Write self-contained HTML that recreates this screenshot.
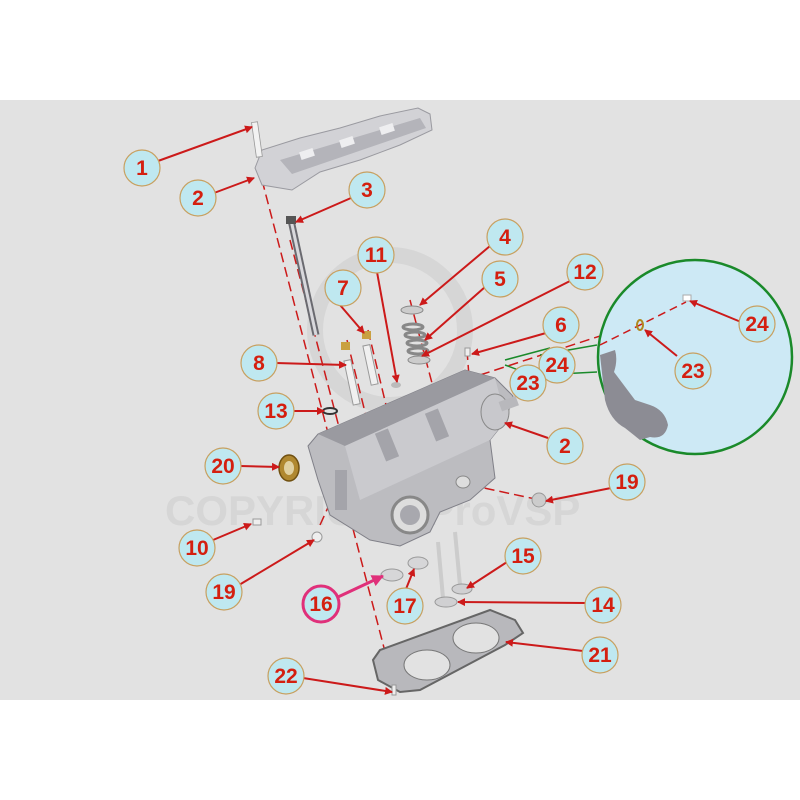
<!DOCTYPE html>
<html><head><meta charset="utf-8"><style>
html,body{margin:0;padding:0;background:#fff;}
svg{display:block}
text{font-family:"Liberation Sans",Arial,sans-serif;font-weight:bold;}
</style></head><body>
<svg width="800" height="800" viewBox="0 0 800 800" xmlns="http://www.w3.org/2000/svg">
<defs>
<marker id="ar" markerWidth="8" markerHeight="8" refX="7" refY="4" orient="auto" markerUnits="userSpaceOnUse"><path d="M0,0 L8,4 L0,8 z" fill="#cc1a1a"/></marker>
<marker id="ap" markerWidth="12" markerHeight="12" refX="11" refY="6" orient="auto" markerUnits="userSpaceOnUse"><path d="M0,0 L12,6 L0,12 z" fill="#e0307a"/></marker>
</defs>
<rect x="0" y="100" width="800" height="600" fill="#e2e2e2"/>
<circle cx="390" cy="330" r="75" fill="none" stroke="#d6d6d6" stroke-width="16"/>
<text x="165" y="525" font-size="42" fill="#d6d6d6" font-weight="normal">COPYRIGHT ProVSP</text>

<g stroke="#cc1a1a" stroke-width="1.5" stroke-dasharray="10,5" fill="none">
<line x1="262" y1="180" x2="395" y2="690"/>
<line x1="290" y1="240" x2="345" y2="450"/>
<line x1="347" y1="340" x2="372" y2="440"/>
<line x1="368" y1="330" x2="392" y2="430"/>
<line x1="410" y1="300" x2="455" y2="470"/>
<line x1="467" y1="350" x2="470" y2="390"/>
<line x1="480" y1="375" x2="680" y2="310"/>
<line x1="320" y1="525" x2="345" y2="470"/>
<line x1="470" y1="485" x2="540" y2="500"/>
</g>

<!-- cam cover -->
<polygon points="255,168 262,150 300,138 340,128 380,116 418,108 430,114 432,130 400,145 360,160 320,172 292,190 262,185" fill="#d2d2d6" stroke="#9a9aa0" stroke-width="1"/>
<polygon points="280,160 420,118 426,128 292,174" fill="#b4b4ba"/>
<g fill="#eeeef0"><rect x="300" y="150" width="14" height="8" transform="rotate(-18 307 154)"/><rect x="340" y="138" width="14" height="8" transform="rotate(-18 347 142)"/><rect x="380" y="125" width="14" height="8" transform="rotate(-18 387 129)"/></g>
<rect x="254" y="122" width="6" height="35" fill="#f2f2f2" stroke="#999" stroke-width="0.8" transform="rotate(-8 257 140)"/>
<line x1="291" y1="220" x2="316" y2="335" stroke="#6a6a70" stroke-width="7"/>
<line x1="291" y1="220" x2="316" y2="335" stroke="#d8d8dc" stroke-width="3"/>
<rect x="286" y="216" width="10" height="8" fill="#555"/>
<rect x="348" y="360" width="7" height="45" fill="#f0f0f0" stroke="#999" transform="rotate(-12 351 380)"/>
<rect x="367" y="345" width="7" height="40" fill="#f0f0f0" stroke="#999" transform="rotate(-12 370 365)"/>
<rect x="341" y="342" width="9" height="8" fill="#c9a040"/><rect x="362" y="331" width="9" height="8" fill="#c9a040"/>
<g stroke="#888" stroke-width="3" fill="none"><ellipse cx="413" cy="327" rx="10" ry="3"/><ellipse cx="415" cy="335" rx="10" ry="3"/><ellipse cx="417" cy="343" rx="10" ry="3"/><ellipse cx="418" cy="351" rx="10" ry="3"/></g>
<ellipse cx="412" cy="310" rx="11" ry="4" fill="#ccc" stroke="#888"/>
<ellipse cx="419" cy="360" rx="11" ry="4" fill="#ccc" stroke="#888"/>
<rect x="465" y="348" width="5" height="8" fill="#eee" stroke="#999"/>
<ellipse cx="396" cy="385" rx="5" ry="3" fill="#bbb"/>
<ellipse cx="330" cy="411" rx="7" ry="3" fill="none" stroke="#333" stroke-width="2"/>

<!-- engine block -->
<polygon points="308,446 318,434 465,370 495,378 513,396 506,420 490,440 495,478 470,500 440,512 430,532 400,546 370,540 330,515 318,480" fill="#bcbcc0" stroke="#808088" stroke-width="1"/>
<polygon points="318,434 465,370 495,378 345,446" fill="#9a9aa0"/>
<polygon points="345,446 495,378 506,420 490,440 360,500" fill="#cacace"/>
<g fill="#a4a4aa"><rect x="380" y="430" width="14" height="30" transform="rotate(-22 387 445)"/><rect x="430" y="410" width="14" height="30" transform="rotate(-22 437 425)"/><rect x="335" y="470" width="12" height="40"/></g>
<circle cx="410" cy="515" r="18" fill="#ddd" stroke="#888" stroke-width="3"/>
<circle cx="410" cy="515" r="10" fill="#a8a8ae"/>
<ellipse cx="495" cy="412" rx="14" ry="18" fill="#c8c8cc" stroke="#888"/>
<rect x="500" y="400" width="18" height="10" fill="#b8b8bc" transform="rotate(-20 505 405)"/>
<ellipse cx="463" cy="482" rx="7" ry="6" fill="#ddd" stroke="#888"/>

<ellipse cx="289" cy="468" rx="10" ry="13" fill="#b08830" stroke="#705010" stroke-width="1.5"/>
<ellipse cx="289" cy="468" rx="5" ry="7" fill="#e0d0a0"/>
<rect x="253" y="519" width="8" height="6" fill="#eee" stroke="#999"/>
<ellipse cx="317" cy="537" rx="5" ry="5" fill="#eee" stroke="#999"/>
<ellipse cx="539" cy="500" rx="7" ry="7" fill="#ccc" stroke="#999"/>
<ellipse cx="392" cy="575" rx="11" ry="6" fill="#d6d6d8" stroke="#999"/>
<ellipse cx="418" cy="563" rx="10" ry="6" fill="#d6d6d8" stroke="#999"/>
<line x1="438" y1="542" x2="443" y2="598" stroke="#ccc" stroke-width="4"/>
<ellipse cx="446" cy="602" rx="11" ry="5" fill="#d0d0d2" stroke="#999"/>
<line x1="455" y1="532" x2="460" y2="585" stroke="#ccc" stroke-width="4"/>
<ellipse cx="462" cy="589" rx="10" ry="5" fill="#d0d0d2" stroke="#999"/>
<polygon points="373,660 380,650 490,610 515,620 523,633 505,645 420,690 400,692 378,680" fill="#b8b8bc" stroke="#666" stroke-width="2"/>
<ellipse cx="427" cy="665" rx="23" ry="15" fill="#e2e2e2" stroke="#777"/>
<ellipse cx="476" cy="638" rx="23" ry="15" fill="#e2e2e2" stroke="#777"/>
<rect x="392" y="685" width="4" height="10" fill="#eee" stroke="#999"/>

<line x1="597" y1="345" x2="540" y2="355" stroke="#1a8a2a" stroke-width="1.5"/>
<line x1="597" y1="372" x2="540" y2="375" stroke="#1a8a2a" stroke-width="1.5"/>
<circle cx="695" cy="357" r="97" fill="#cde9f5" stroke="#1a8a2a" stroke-width="2.5"/>
<path d="M600,355 L615,350 Q618,360 614,372 L635,400 L650,405 Q665,410 668,425 Q665,440 650,437 L640,440 L625,428 Q610,420 605,400 Z" fill="#8c8c94"/>
<line x1="600" y1="345" x2="686" y2="302" stroke="#cc1a1a" stroke-width="1.5" stroke-dasharray="8,5"/>
<ellipse cx="640" cy="325" rx="3" ry="5" fill="none" stroke="#b08820" stroke-width="2"/>
<rect x="683" y="295" width="8" height="6" fill="#fff" stroke="#aaa"/>

<g stroke="#cc1a1a" stroke-width="2" fill="none" marker-end="url(#ar)">
<line x1="158" y1="161" x2="252" y2="127"/>
<line x1="214" y1="193" x2="254" y2="178"/>
<line x1="351" y1="198" x2="296" y2="222"/>
<line x1="490" y1="246" x2="420" y2="305"/>
<line x1="377" y1="272" x2="397" y2="382"/>
<line x1="570" y1="281" x2="422" y2="356"/>
<line x1="485" y1="287" x2="425" y2="340"/>
<line x1="340" y1="305" x2="364" y2="333"/>
<line x1="546" y1="333" x2="472" y2="354"/>
<line x1="741" y1="322" x2="690" y2="301"/>
<line x1="276" y1="363" x2="346" y2="365"/>
<line x1="677" y1="356" x2="645" y2="330"/>
<line x1="293" y1="411" x2="324" y2="411"/>
<line x1="548" y1="438" x2="505" y2="423"/>
<line x1="240" y1="466" x2="279" y2="467"/>
<line x1="611" y1="488" x2="546" y2="501"/>
<line x1="213" y1="540" x2="251" y2="524"/>
<line x1="507" y1="562" x2="467" y2="588"/>
<line x1="239" y1="585" x2="314" y2="540"/>
<line x1="406" y1="589" x2="414" y2="569"/>
<line x1="586" y1="603" x2="458" y2="602"/>
<line x1="583" y1="651" x2="506" y2="642"/>
<line x1="303" y1="678" x2="392" y2="692"/>
</g>
<g stroke="#1a8a2a" stroke-width="1.5" fill="none"><path d="M505,360 L550,348 M505,365 L540,378"/></g>
<line x1="338" y1="597" x2="383" y2="576" stroke="#e0307a" stroke-width="3" marker-end="url(#ap)"/>

<g fill="#bfe8f0" stroke="#c8a060" stroke-width="1.2">
<circle cx="142" cy="168" r="18"/><circle cx="198" cy="198" r="18"/><circle cx="367" cy="190" r="18"/>
<circle cx="505" cy="237" r="18"/><circle cx="376" cy="255" r="18"/><circle cx="585" cy="272" r="18"/>
<circle cx="500" cy="279" r="18"/><circle cx="343" cy="288" r="18"/><circle cx="561" cy="325" r="18"/>
<circle cx="757" cy="324" r="18"/><circle cx="259" cy="363" r="18"/><circle cx="557" cy="365" r="18"/>
<circle cx="528" cy="383" r="18"/><circle cx="693" cy="371" r="18"/><circle cx="276" cy="411" r="18"/>
<circle cx="565" cy="446" r="18"/><circle cx="223" cy="466" r="18"/><circle cx="627" cy="482" r="18"/>
<circle cx="197" cy="548" r="18"/><circle cx="523" cy="556" r="18"/><circle cx="224" cy="592" r="18"/>
<circle cx="405" cy="606" r="18"/><circle cx="603" cy="605" r="18"/><circle cx="600" cy="655" r="18"/>
<circle cx="286" cy="676" r="18"/>
</g>
<circle cx="321" cy="604" r="18" fill="#bfe8f0" stroke="#e0307a" stroke-width="3"/>
<g fill="#d42010" font-size="21" text-anchor="middle">
<text x="142" y="175">1</text><text x="198" y="205">2</text><text x="367" y="197">3</text>
<text x="505" y="244">4</text><text x="376" y="262">11</text><text x="585" y="279">12</text>
<text x="500" y="286">5</text><text x="343" y="295">7</text><text x="561" y="332">6</text>
<text x="757" y="331">24</text><text x="259" y="370">8</text><text x="557" y="372">24</text>
<text x="528" y="390">23</text><text x="693" y="378">23</text><text x="276" y="418">13</text>
<text x="565" y="453">2</text><text x="223" y="473">20</text><text x="627" y="489">19</text>
<text x="197" y="555">10</text><text x="523" y="563">15</text><text x="224" y="599">19</text>
<text x="321" y="611">16</text><text x="405" y="613">17</text><text x="603" y="612">14</text>
<text x="600" y="662">21</text><text x="286" y="683">22</text>
</g>
</svg>
</body></html>
